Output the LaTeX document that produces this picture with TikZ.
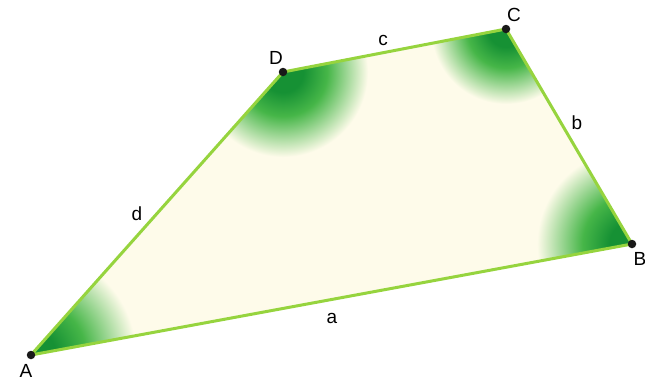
\documentclass[tikz,border=0pt]{standalone}
\usepackage{fontspec}
\setmainfont{Liberation Sans}
\definecolor{cream}{RGB}{254,251,234}
\definecolor{edgegreen}{RGB}{150,212,62}
\definecolor{darkg}{RGB}{22,145,52}
\definecolor{midg}{RGB}{70,182,72}
\pgfdeclareradialshading{cornershade}{\pgfpoint{0bp}{0bp}}{%
  color(0bp)=(darkg); color(6bp)=(darkg); color(13bp)=(midg); color(25bp)=(cream); color(50bp)=(cream)}
\begin{document}
\begin{tikzpicture}[x=1pt,y=-1pt,
  vlabel/.style={font=\fontsize{19}{21}\selectfont, inner sep=0pt},
  dot/.style={circle, fill=black!90, inner sep=0pt, minimum size=8.5pt}]
\useasboundingbox (0,0) rectangle (645,384);
\coordinate (A) at (31,355);
\coordinate (B) at (632,244);
\coordinate (C) at (506,29);
\coordinate (D) at (283,72);
\fill[cream] (A) -- (B) -- (C) -- (D) -- cycle;
\begin{scope}
  \clip (A) -- (B) -- (C) -- (D) -- cycle;
  \shade[shading=cornershade] (A) circle (105);
  \shade[shading=cornershade] (B) circle (95);
  \shade[shading=cornershade] (C) circle (75);
  \shade[shading=cornershade] (D) circle (85);
\end{scope}
\draw[edgegreen, line width=3pt, line join=round] (A) -- (B) -- (C) -- (D) -- cycle;
\node[dot] (pA) at (A) {};
\node[dot] (pB) at (B) {};
\node[dot] (pC) at (C) {};
\node[dot] (pD) at (D) {};
\node[vlabel] (lA) at (26,371) {A};
\node[vlabel] (lB) at (640,259) {B};
\node[vlabel] (lC) at (514,15) {C};
\node[vlabel] (lD) at (276,58) {D};
\node[vlabel] (la) at (332,318) {a};
\node[vlabel] (lb) at (577,123) {b};
\node[vlabel] (lc) at (383,40) {c};
\node[vlabel] (ld) at (137,214) {d};
\end{tikzpicture}
\end{document}
